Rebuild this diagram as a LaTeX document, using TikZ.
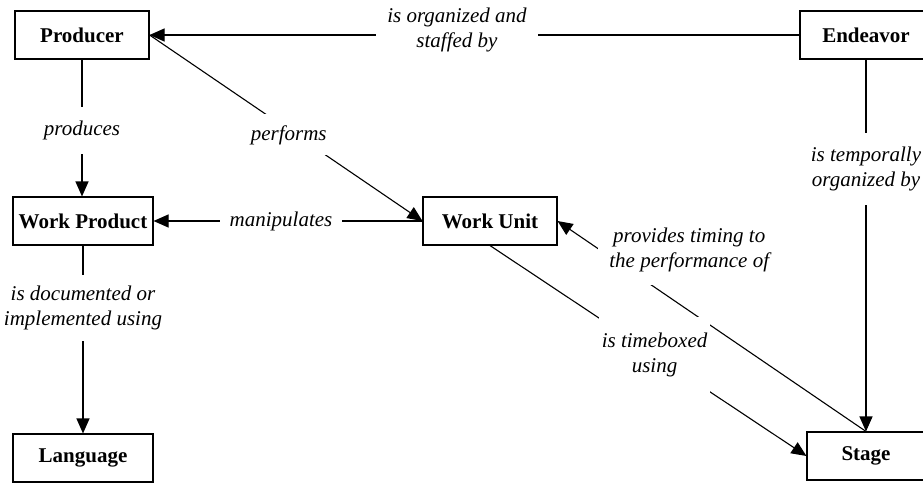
\documentclass[tikz,border=0pt]{standalone}
\usepackage{fontspec}
\setmainfont{Liberation Serif}
\usetikzlibrary{arrows.meta}
\begin{document}
\fontsize{21}{24.5}\selectfont
\begin{tikzpicture}[x=1pt,y=-1pt,
  entity/.style={draw, line width=1.1pt, minimum height=48pt, inner sep=0pt, font=\bfseries},
  rel/.style={draw, line width=1.1pt, -{Triangle[length=15pt,width=13pt]}},
  lbl/.style={fill=white, font=\itshape, align=center, inner xsep=6pt, inner ysep=12pt}]
\useasboundingbox (0,0) rectangle (923,482);
\clip (0,0) rectangle (923,482);

% concepts
\node[entity, minimum width=134pt] (prod)  at (82,35)   {Producer};
\node[entity, minimum width=132pt] (endv)  at (866,35)  {Endeavor};
\node[entity, minimum width=140pt] (wp)    at (83,221)  {Work Product};
\node[entity, minimum width=134pt] (wu)    at (490,221) {Work Unit};
\node[entity, minimum width=140pt] (lang)  at (83,458)  {Language};
\node[entity, minimum width=118pt] (stage) at (866,456) {Stage};

% relationships
\draw[rel] (endv.west) -- node[lbl, pos=0.527, yshift=5pt, inner xsep=11pt, inner ysep=4pt]
  {is organized and\\staffed by} (prod.east);
\draw[rel] (prod.south) -- node[lbl, pos=0.52, inner ysep=14pt]
  {produces} (prod.south |- wp.north);
\draw[rel] (prod.east) -- node[lbl, pos=0.51, yshift=-5pt, inner xsep=2pt, inner ysep=11pt]
  {performs} (wu.west);
\draw[rel] (wu.west) -- node[lbl, pos=0.526, inner xsep=10pt, inner ysep=4pt]
  {manipulates} (wp.east);
\draw[rel] (wp.south) -- node[lbl, pos=0.333, inner ysep=11pt]
  {is documented or\\implemented using} (lang.north);
\draw[rel] (endv.south) -- node[lbl, pos=0.294, inner ysep=14pt]
  {is temporally\\organized by} (stage.north);
\draw[rel] (stage.north) -- node[lbl, pos=0.573, yshift=61pt, inner xsep=11pt, inner ysep=13pt]
  {provides timing to\\the performance of} (wu.east);
\draw[rel] (wu.south) -- node[lbl, pos=0.52, inner xsep=3pt, inner ysep=16pt]
  {is timeboxed\\using} (stage.west);
\end{tikzpicture}
\end{document}
